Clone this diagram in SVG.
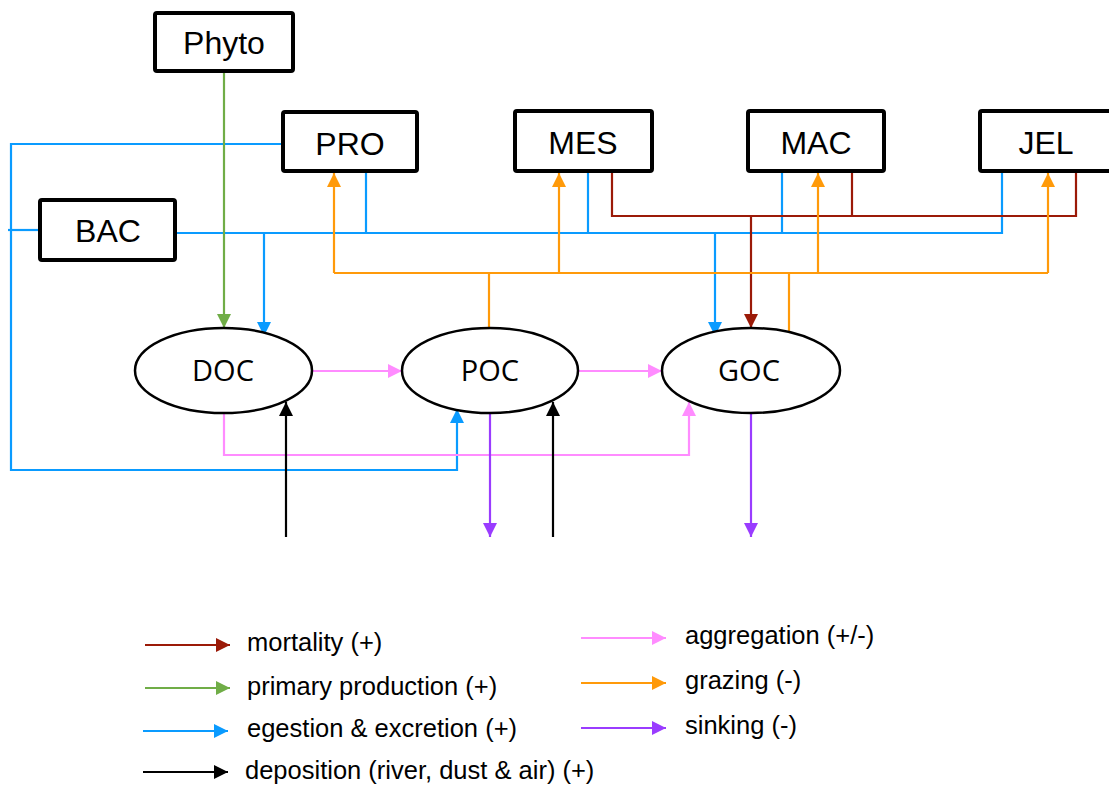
<svg xmlns="http://www.w3.org/2000/svg" width="1109" height="786" viewBox="0 0 1109 786">
<style>
.box{fill:#fff;stroke:#000;stroke-width:4}
.ell{fill:#fff;stroke:#000;stroke-width:2.5}
.lbl{font-family:"Liberation Sans",Arial,sans-serif;font-size:32px;fill:#000;text-anchor:middle}
.olbl{font-family:"Open Sans","Noto Sans",sans-serif;font-size:29px;fill:#000;text-anchor:middle}
.leg{font-family:"Liberation Sans",Arial,sans-serif;font-size:25.5px;fill:#000}
.c{fill:none;stroke-width:2.2}
.red{stroke:#9B1A08}
.grn{stroke:#70AD47}
.blu{stroke:#0A9BFF}
.org{stroke:#FF9A0A}
.pnk{stroke:#FF8CFF}
.pur{stroke:#9A3CFF}
.blk{stroke:#000}
</style>
<defs>
<marker id="mRed" markerUnits="userSpaceOnUse" markerWidth="15" markerHeight="15" refX="14" refY="7" orient="auto"><path d="M0,0 L14,7 L0,14 z" fill="#9B1A08"/></marker>
<marker id="mGrn" markerUnits="userSpaceOnUse" markerWidth="15" markerHeight="15" refX="14" refY="7" orient="auto"><path d="M0,0 L14,7 L0,14 z" fill="#70AD47"/></marker>
<marker id="mBlu" markerUnits="userSpaceOnUse" markerWidth="15" markerHeight="15" refX="14" refY="7" orient="auto"><path d="M0,0 L14,7 L0,14 z" fill="#0A9BFF"/></marker>
<marker id="mOrg" markerUnits="userSpaceOnUse" markerWidth="15" markerHeight="15" refX="14" refY="7" orient="auto"><path d="M0,0 L14,7 L0,14 z" fill="#FF9A0A"/></marker>
<marker id="mPnk" markerUnits="userSpaceOnUse" markerWidth="15" markerHeight="15" refX="14" refY="7" orient="auto"><path d="M0,0 L14,7 L0,14 z" fill="#FF8CFF"/></marker>
<marker id="mPur" markerUnits="userSpaceOnUse" markerWidth="15" markerHeight="15" refX="14" refY="7" orient="auto"><path d="M0,0 L14,7 L0,14 z" fill="#9A3CFF"/></marker>
<marker id="mBlk" markerUnits="userSpaceOnUse" markerWidth="15" markerHeight="15" refX="14" refY="7" orient="auto"><path d="M0,0 L14,7 L0,14 z" fill="#000"/></marker>
</defs>
<rect width="1109" height="786" fill="#fff"/>

<g id="connectors">
  <!-- egestion & excretion (blue) -->
  <path class="c blu" d="M283,144 H11 V470 H457 V409" marker-end="url(#mBlu)"/>
  <path class="c blu" d="M8,230 H40"/>
  <path class="c blu" d="M176,233 H1002 V172"/>
  <path class="c blu" d="M366,172 V233"/>
  <path class="c blu" d="M588,172 V233"/>
  <path class="c blu" d="M782,172 V233"/>
  <path class="c blu" d="M264,233 V336" marker-end="url(#mBlu)"/>
  <path class="c blu" d="M715,233 V336" marker-end="url(#mBlu)"/>
  <!-- primary production -->
  <path class="c grn" d="M224,71 V328" marker-end="url(#mGrn)"/>
  <!-- mortality -->
  <path class="c red" d="M612,172 V216 H1076 V172"/>
  <path class="c red" d="M852,172 V216"/>
  <path class="c red" d="M751,216 V328" marker-end="url(#mRed)"/>
  <!-- grazing -->
  <path class="c org" d="M334,273 H1048"/>
  <path class="c org" d="M334,273 V173" marker-end="url(#mOrg)"/>
  <path class="c org" d="M559,273 V173" marker-end="url(#mOrg)"/>
  <path class="c org" d="M818,273 V173" marker-end="url(#mOrg)"/>
  <path class="c org" d="M1048,273 V173" marker-end="url(#mOrg)"/>
  <path class="c org" d="M489,273 V328"/>
  <path class="c org" d="M789,273 V332"/>
  <!-- aggregation -->
  <path class="c pnk" d="M312,371 H402" marker-end="url(#mPnk)"/>
  <path class="c pnk" d="M578,371 H662" marker-end="url(#mPnk)"/>
  <path class="c pnk" d="M224,413 V455 H689 V402" marker-end="url(#mPnk)"/>
  <!-- deposition -->
  <path class="c blk" d="M286,537 V402" marker-end="url(#mBlk)"/>
  <path class="c blk" d="M553,537 V402" marker-end="url(#mBlk)"/>
  <!-- sinking -->
  <path class="c pur" d="M490,413 V537" marker-end="url(#mPur)"/>
  <path class="c pur" d="M751,413 V537" marker-end="url(#mPur)"/>
</g>

<g id="Phyto"><rect class="box" x="155" y="13" width="138" height="58" rx="2"/><text class="lbl" x="224" y="54">Phyto</text></g>
<g id="PRO"><rect class="box" x="283" y="112" width="134" height="59" rx="2"/><text class="lbl" x="350" y="155">PRO</text></g>
<g id="MES"><rect class="box" x="515" y="111" width="137" height="60" rx="2"/><text class="lbl" x="583" y="154">MES</text></g>
<g id="MAC"><rect class="box" x="748" y="111" width="136" height="60" rx="2"/><text class="lbl" x="816" y="154">MAC</text></g>
<g id="JEL"><rect class="box" x="980" y="111" width="136" height="60" rx="2"/><text class="lbl" x="1046" y="154">JEL</text></g>
<g id="BAC"><rect class="box" x="40" y="200" width="135" height="60" rx="2"/><text class="lbl" x="108" y="242">BAC</text></g>

<g id="DOC"><ellipse class="ell" cx="223.5" cy="370.5" rx="88.5" ry="42.5"/><text class="olbl" x="223" y="381">DOC</text></g>
<g id="POC"><ellipse class="ell" cx="490" cy="370.5" rx="88" ry="42.5"/><text class="olbl" x="490" y="381">POC</text></g>
<g id="GOC"><ellipse class="ell" cx="751" cy="370.5" rx="89" ry="42.5"/><text class="olbl" x="749" y="381">GOC</text></g>

<g id="legend">
  <path class="c red" d="M145,645 H230" marker-end="url(#mRed)"/>
  <text class="leg" x="247" y="651">mortality (+)</text>
  <path class="c grn" d="M145,688 H230" marker-end="url(#mGrn)"/>
  <text class="leg" x="247" y="695">primary production (+)</text>
  <path class="c blu" d="M143,731 H228" marker-end="url(#mBlu)"/>
  <text class="leg" x="247" y="737">egestion &amp; excretion (+)</text>
  <path class="c blk" d="M143,772 H228" marker-end="url(#mBlk)"/>
  <text class="leg" x="245" y="779">deposition (river, dust &amp; air) (+)</text>
  <path class="c pnk" d="M581,638 H666" marker-end="url(#mPnk)"/>
  <text class="leg" x="685" y="644">aggregation (+/-)</text>
  <path class="c org" d="M581,683 H666" marker-end="url(#mOrg)"/>
  <text class="leg" x="685" y="689">grazing (-)</text>
  <path class="c pur" d="M581,728 H666" marker-end="url(#mPur)"/>
  <text class="leg" x="685" y="734">sinking (-)</text>
</g>
</svg>
